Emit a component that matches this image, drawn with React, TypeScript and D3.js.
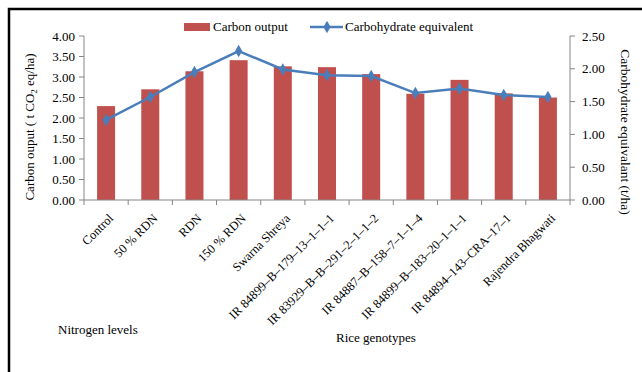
import React from "react";
import * as d3 from "d3";

const categories = [
  "Control",
  "50 % RDN",
  "RDN",
  "150 % RDN",
  "Swarna Shreya",
  "IR 84899–B–179–13–1–1–1",
  "IR 83929–B–B–291–2–1–1–2",
  "IR 84887–B–158–7–1–1–4",
  "IR 84899–B–183–20–1–1–1",
  "IR 84894–143–CRA–17–1",
  "Rajendra Bhagwati",
];
const carbonOutput = [2.29, 2.7, 3.14, 3.41, 3.26, 3.24, 3.07, 2.59, 2.93, 2.6, 2.5];
const carbohydrateEq = [1.22, 1.57, 1.95, 2.27, 1.99, 1.9, 1.89, 1.63, 1.7, 1.6, 1.57];
const leftTicks = [0, 0.5, 1, 1.5, 2, 2.5, 3, 3.5, 4];
const rightTicks = [0, 0.5, 1, 1.5, 2, 2.5];

const W = 642, H = 372;
const plotL = 84, plotR = 570, plotT = 36, plotB = 200;
const BAR = "#C0504D", LINE = "#4A7EBB";
const FONT = "'Liberation Serif', 'Times New Roman', serif";

export default function App() {
  const xb = d3.scaleBand().domain(categories).range([plotL, plotR]);
  const yL = d3.scaleLinear().domain([0, 4]).range([plotB, plotT]);
  const yR = d3.scaleLinear().domain([0, 2.5]).range([plotB, plotT]);
  const cxOf = (c: string) => xb(c)! + xb.bandwidth() / 2;
  const line = d3.line<number>()
    .x((_, i) => cxOf(categories[i]))
    .y((d) => yR(d));
  const diamond = d3.symbol().type(d3.symbolDiamond).size(45)();
  const axisColor = "#868686";
  const bw = 18;

  return (
    <svg width={W} height={H} style={{ position: "absolute", left: 0, top: 0, background: "#fff" }} fontFamily={FONT}>
      <rect x={9} y={9} width={700} height={420} fill="#fff" stroke="#000" strokeWidth={2.5} />
      {carbonOutput.map((v, i) => {
        const cx = cxOf(categories[i]);
        return <rect key={i} x={cx - bw / 2} y={yL(v)} width={bw} height={plotB - yL(v)} fill={BAR} />;
      })}
      <line x1={plotL} x2={plotL} y1={plotT} y2={plotB} stroke={axisColor} />
      <line x1={plotR} x2={plotR} y1={plotT} y2={plotB} stroke={axisColor} />
      <line x1={plotL} x2={plotR} y1={plotB} y2={plotB} stroke={axisColor} />
      {leftTicks.map((t) => (
        <g key={"l" + t}>
          <line x1={plotL - 5} x2={plotL} y1={yL(t)} y2={yL(t)} stroke={axisColor} />
          <text x={plotL - 9} y={yL(t)} dy="0.35em" textAnchor="end" fontSize={13}>{t.toFixed(2)}</text>
        </g>
      ))}
      {rightTicks.map((t) => (
        <g key={"r" + t}>
          <line x1={plotR} x2={plotR + 5} y1={yR(t)} y2={yR(t)} stroke={axisColor} />
          <text x={plotR + 12} y={yR(t)} dy="0.35em" textAnchor="start" fontSize={13}>{t.toFixed(2)}</text>
        </g>
      ))}
      {categories.map((c, i) => (
        <line key={"xt" + i} x1={xb(c)!} x2={xb(c)!} y1={plotB} y2={plotB + 5} stroke={axisColor} />
      ))}
      <line x1={plotR} x2={plotR} y1={plotB} y2={plotB + 5} stroke={axisColor} />
      {categories.map((c) => {
        const cx = cxOf(c) + 8;
        const cy = plotB + 19;
        return (
          <text key={"xl" + c} x={cx} y={cy} textAnchor="end" fontSize={12.5} transform={`rotate(-45 ${cx} ${cy})`}>{c}</text>
        );
      })}
      <path d={line(carbohydrateEq)!} fill="none" stroke={LINE} strokeWidth={2.5} />
      {carbohydrateEq.map((v, i) => (
        <path key={"d" + i} d={diamond} transform={`translate(${cxOf(categories[i])},${yR(v)})`} fill={LINE} />
      ))}
      <rect x={184} y={23} width={26} height={8} fill={BAR} />
      <text x={213} y={31} fontSize={13}>Carbon output</text>
      <line x1={310} x2={343} y1={27} y2={27} stroke={LINE} strokeWidth={2.5} />
      <path d={diamond} transform="translate(327,27)" fill={LINE} />
      <text x={345} y={31} fontSize={13}>Carbohydrate equivalent</text>
      <text transform="translate(34,127) rotate(-90)" textAnchor="middle" fontSize={13}>
        Carbon ouput ( t CO<tspan fontSize={9} dy={3}>2</tspan><tspan dy={-3}> eq/ha)</tspan>
      </text>
      <text transform="translate(621,132) rotate(90)" textAnchor="middle" fontSize={13.5}>Carbohydrate equivalant (t/ha)</text>
      <text x={58} y={334} fontSize={13}>Nitrogen levels</text>
      <text x={336} y={342} fontSize={13}>Rice genotypes</text>
    </svg>
  );
}
